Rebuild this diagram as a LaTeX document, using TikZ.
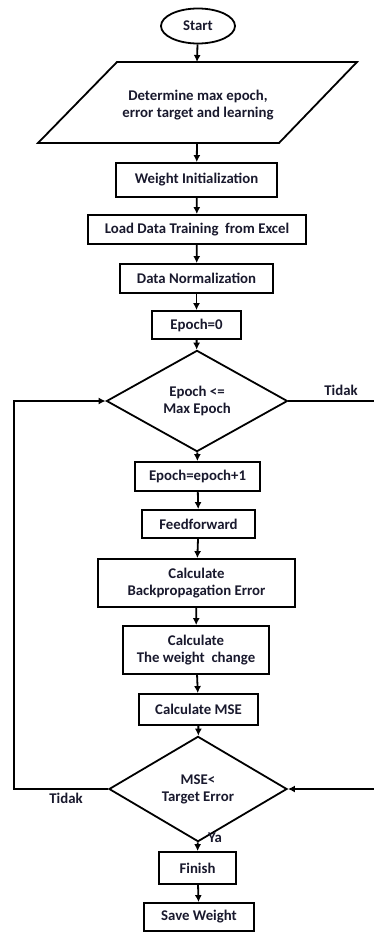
\documentclass[tikz,border=0pt]{standalone}
\usepackage{fontspec}
\setmainfont{Carlito}
\usetikzlibrary{shapes.geometric,arrows.meta}
\definecolor{txt}{RGB}{25,25,45}
\tikzset{
  base/.style={draw=black, line width=1.8pt, font=\bfseries\fontsize{14.8}{17}\selectfont, text=txt, align=center, inner sep=1pt},
  box/.style={base, rectangle},
  dec/.style={base, diamond},
  term/.style={base, ellipse},
  lab/.style={font=\bfseries\fontsize{14.8}{17}\selectfont, text=txt, inner sep=0pt},
  conn/.style={line width=1.8pt, -{Latex[length=7pt,width=7pt]}},
  plain/.style={line width=1.8pt}
}
\begin{document}
\begin{tikzpicture}[x=1pt,y=-1pt]
\useasboundingbox (0,0) rectangle (374,933);
% start
\node[term, minimum width=74pt, minimum height=35pt] (start) at (198,26) {Start};
% parallelogram
\coordinate (ptl) at (117,62);
\coordinate (ptr) at (357,62);
\coordinate (pbr) at (279,143);
\coordinate (pbl) at (38,143);
\draw[line width=1.8pt, line join=miter] (ptl) -- (ptr) -- (pbr) -- (pbl) -- cycle;
\node[lab, align=center] (par) at (198,105) {Determine max epoch,\\error target and learning};
\coordinate (partop) at (197,62);
\coordinate (parbot) at (197,143);
% boxes
\node[box, minimum width=161pt, minimum height=34pt] (wi) at (196.5,180) {Weight Initialization};
\node[box, minimum width=218pt, minimum height=29pt] (ld) at (197,229.5) {Load Data Training\ \ from Excel};
\node[box, minimum width=153pt, minimum height=29pt] (dn) at (196.5,278.5) {Data Normalization};
\node[box, minimum width=89pt, minimum height=28pt] (e0) at (196.5,325) {Epoch=0};
\node[dec, minimum width=181pt, minimum height=84pt] (d1) at (197,401) {Epoch <=\\Max Epoch};
\node[box, minimum width=125pt, minimum height=29pt] (ep1) at (197.5,476.5) {Epoch=epoch+1};
\node[box, minimum width=113pt, minimum height=28pt] (ff) at (198.5,524) {Feedforward};
\node[box, minimum width=197pt, minimum height=48pt] (bp) at (196.5,583) {Calculate\\Backpropagation Error};
\node[box, minimum width=146pt, minimum height=48pt] (wc) at (196,650) {Calculate\\The weight\ \ change};
\node[box, minimum width=119pt, minimum height=31pt] (mse) at (198.5,709.5) {Calculate MSE};
\node[dec, minimum width=178pt, minimum height=87pt] (d2) at (198,789) {MSE<\\Target Error};
\node[box, minimum width=77pt, minimum height=32pt] (fin) at (197.5,868) {Finish};
\node[box, minimum width=110pt, minimum height=28pt] (sw) at (199,917) {Save Weight};
% labels
\node[lab] (t1) at (341,390) {Tidak};
\node[lab] (t2) at (66,798) {Tidak};
\node[lab] (ya) at (215,838) {Ya};
% connectors
\draw[conn] (start) -- (partop);
\draw[conn] (parbot) -- (wi);
\draw[conn] (wi) -- (ld);
\draw[conn] (ld) -- (dn);
\draw[conn] (dn) -- (e0);
\draw[conn] (e0) -- (d1);
\draw[conn] (d1) -- (ep1);
\draw[conn] (ep1) -- (ff);
\draw[conn] (ff) -- (bp);
\draw[conn] (bp) -- (wc);
\draw[conn] (wc) -- (mse);
\draw[conn] (mse) -- (d2);
\draw[conn] (d2) -- (fin);
\draw[conn] (fin) -- (sw);
% loops
\coordinate (lft) at (14,789);
\coordinate (lft2) at (14,401);
\draw[conn] (d2.west) -- (lft) -- (lft2) -- (d1.west);
\coordinate (rt1) at (380,401);
\coordinate (rt2) at (380,789);
\draw[conn] (d1.east) -- (rt1) -- (rt2) -- (d2.east);
\end{tikzpicture}
\end{document}
